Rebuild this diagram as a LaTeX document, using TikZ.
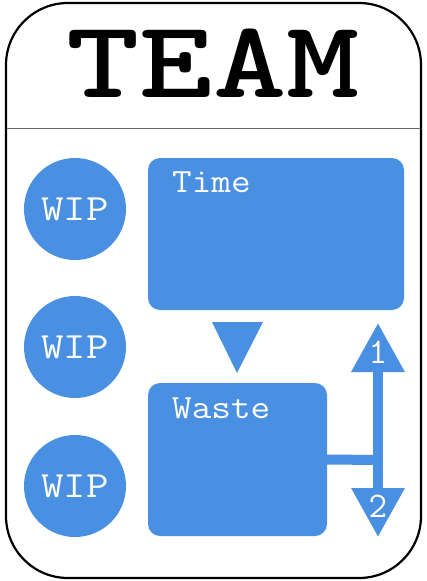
\documentclass[tikz,border=0pt]{standalone}
\usepackage{graphicx}
\usepackage{tikz}
\usetikzlibrary{shapes.geometric, arrows.meta}
\definecolor{wipblue}{HTML}{4A90E2}
\newcommand{\widen}[2]{\scalebox{#1}[1]{#2}}
\tikzstyle{card} = [rectangle, rounded corners=62pt, minimum width=415pt, minimum height=575pt, draw=black, line width=2.2pt]
\tikzstyle{title} = [font=\ttfamily\bfseries\fontsize{110}{116}\selectfont, text=black]
\tikzstyle{wip} = [circle, minimum size=102pt, fill=wipblue, text=white, font=\ttfamily\fontsize{37}{40}\selectfont]
\tikzstyle{stage} = [rectangle, rounded corners=12pt, fill=wipblue]
\tikzstyle{stagetext} = [anchor=base west, inner sep=0pt, text=white, font=\ttfamily\fontsize{34}{36}\selectfont]
\tikzstyle{bar} = [draw=wipblue, line width=10pt]
\tikzstyle{arrow} = [bar, {Triangle[width=51pt,length=49pt]}-{Triangle[width=51pt,length=49pt]}]
\tikzstyle{digit} = [text=white, font=\ttfamily\fontsize{36}{38}\selectfont]

\begin{document}
\begin{tikzpicture}[x=1pt, y=-1pt]
        \useasboundingbox (0,0) rectangle (427,581);

        \node (card) [card] at (213.5,290.5) {};
        \draw [gray!80!black, line width=0.8pt] (7,128) -- (420,128);
        \node (title) [title] at (213,63) {\widen{1.27}{TEAM}};

        % WIP column
        \node (wip1) [wip] at (75,209) {\widen{1.18}{WIP}};
        \node (wip2) [wip] at (75,347) {\widen{1.18}{WIP}};
        \node (wip3) [wip] at (75,486) {\widen{1.18}{WIP}};

        % Stages
        \node (time) [stage, minimum width=256pt, minimum height=152pt] at (276,234) {};
        \node (timetext) [stagetext] at (172,192) {\widen{1.12}{Time}};
        \node (waste) [stage, minimum width=179pt, minimum height=153pt] at (237.5,459.5) {};
        \node (wastetext) [stagetext] at (172,418) {\widen{1.12}{Waste}};

        % Flow
        \fill [wipblue] (212,322) -- (263,322) -- (237,373) -- cycle;

        \coordinate (up) at (378,323);
        \coordinate (down) at (378,537);
        \coordinate (joint) at (378,460);
        \draw [arrow] (up) -- (down);
        \draw [bar] (waste.east) -- (joint);
        \node (one) [digit] at (378,352) {1};
        \node (two) [digit] at (378,506) {2};

        \end{tikzpicture}
\end{document}
